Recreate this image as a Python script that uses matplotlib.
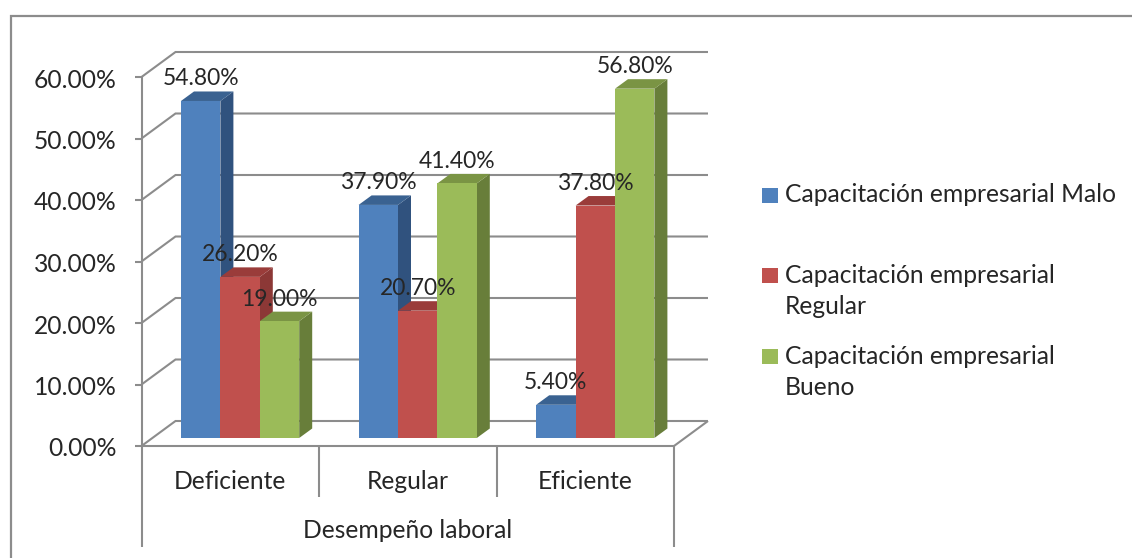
import matplotlib
matplotlib.use("Agg")
import matplotlib.pyplot as plt
from matplotlib.lines import Line2D
from matplotlib.patches import Polygon, Rectangle
from matplotlib.transforms import ScaledTranslation

plt.rcParams['font.family'] = ['Lato', 'DejaVu Sans']

categories = ["Deficiente", "Regular", "Eficiente"]
series_names = ["Capacitación empresarial Malo",
                "Capacitación empresarial\nRegular",
                "Capacitación empresarial\nBueno"]
malo = [54.8, 37.9, 5.4]
regular = [26.2, 20.7, 37.8]
bueno = [19.0, 41.4, 56.8]
y_ticks = [0, 10, 20, 30, 40, 50, 60]
axis_title = "Desempeño laboral"

front_colors = ["#4F81BD", "#C0504D", "#9BBB59"]
side_colors = ["#30527E", "#8C3836", "#687E3A"]
top_colors = ["#3A6291", "#9A3C3A", "#7A9444"]
line_gray = "#8C8C8C"
text_color = "#262626"
FS = 17.7
FS_LABEL = 16.5

W, H = 1132, 558
fig = plt.figure(figsize=(W / 100, H / 100), dpi=100, facecolor="white")

# The front plane of the chart box, given in figure pixels
left, right, y0, y60 = 141.5, 674.0, 446.0, 77.0
ax = fig.add_axes([left / W, 1 - y0 / H, (right - left) / W, (y0 - y60) / H])
ax.set_xlim(0, 3)
ax.set_ylim(0, 60)
ax.patch.set_visible(False)

px_x = 3 / (right - left)
px_y = 60 / (y0 - y60)
DEPTH_X, DEPTH_Y = 34 * px_x, 25 * px_y


def line(xs, ys, z=1, lw=1.5):
    ax.add_line(Line2D(xs, ys, color=line_gray, lw=lw, clip_on=False, zorder=z,
                       solid_capstyle="butt", solid_joinstyle="miter"))


# Back wall, side wall and floor
for v in y_ticks:
    line([0, DEPTH_X, 3 + DEPTH_X], [v, v + DEPTH_Y, v + DEPTH_Y])
line([3, 3 + DEPTH_X], [0, DEPTH_Y])

# Bars as three visible faces of a box
bar_w = 39.4 * px_x
bar_dx, bar_dy = 13 * px_x, 9.5 * px_y
inset_x, inset_y = 39.5 * px_x, 8 * px_y
group_gap = 177.6 * px_x
for j, values in enumerate([malo, regular, bueno]):
    for i, v in enumerate(values):
        x0 = inset_x + i * group_gap + j * bar_w
        b, t = inset_y, inset_y + v
        z = 3 + i * 3 + j * 0.1
        ax.add_patch(Polygon([(x0 + bar_w, b), (x0 + bar_w + bar_dx, b + bar_dy),
                              (x0 + bar_w + bar_dx, t + bar_dy), (x0 + bar_w, t)],
                             fc=side_colors[j], ec="none", zorder=z, clip_on=False))
        ax.add_patch(Polygon([(x0, t), (x0 + bar_dx, t + bar_dy),
                              (x0 + bar_w + bar_dx, t + bar_dy), (x0 + bar_w, t)],
                             fc=top_colors[j], ec="none", zorder=z, clip_on=False))
        ax.add_patch(Rectangle((x0, b), bar_w, v, fc=front_colors[j], ec="none",
                               zorder=z + 0.01, clip_on=False))
        ax.annotate(f"{v:.2f}%", (x0 + bar_w / 2, t), xytext=(0, 22 * 0.72),
                    textcoords="offset points", ha="center", va="center",
                    fontsize=FS_LABEL, color=text_color, zorder=30,
                    annotation_clip=False)

# Value axis
for name in ["top", "right", "bottom", "left"]:
    ax.spines[name].set_visible(False)
ax.set_yticks(y_ticks)
ax.set_yticklabels([f"{v:.2f}%" for v in y_ticks], fontsize=FS, color=text_color)
ax.tick_params(axis="y", length=5, width=1.5, color=line_gray, pad=12.7)
nudge = ScaledTranslation(0, -1 / 100, fig.dpi_scale_trans)
for lab in ax.get_yticklabels():
    lab.set_transform(lab.get_transform() + nudge)

# Category axis with the two-level label layout
ax.set_xticks([0.5, 1.5, 2.5])
ax.set_xticklabels(categories, fontsize=FS, color=text_color)
ax.tick_params(axis="x", length=0, pad=17)
line([0, 3], [0, 0], z=2)
line([0, 0], [60, -101 * px_y], z=2)
line([3, 3], [0, -101 * px_y], z=2)
for d in [1, 2]:
    line([d, d], [0, -51 * px_y], z=2)
ax.text(1.5, -85 * px_y, axis_title, ha="center", va="center",
        fontsize=FS, color=text_color, clip_on=False)

# Outer frame, cut by the edges of the image
fig.add_artist(Line2D([10.5 / W, 10.5 / W, 1], [0, 1 - 15.5 / H, 1 - 15.5 / H],
                      color=line_gray, lw=1.6, solid_joinstyle="miter"))

# Legend
legend_rows = [(194, 187.5), (291, 268), (372, 349)]
for name, color, (ty, sy) in zip(series_names, front_colors, legend_rows):
    fig.add_artist(Rectangle((762 / W, 1 - (sy + 15) / H), 16 / W, 15 / H,
                             fc=color, ec="none", transform=fig.transFigure))
    fig.text(785 / W, 1 - ty / H, name, ha="left", va="center", fontsize=FS,
             color=text_color, linespacing=1.42)

fig.savefig("out.png", dpi=100)
